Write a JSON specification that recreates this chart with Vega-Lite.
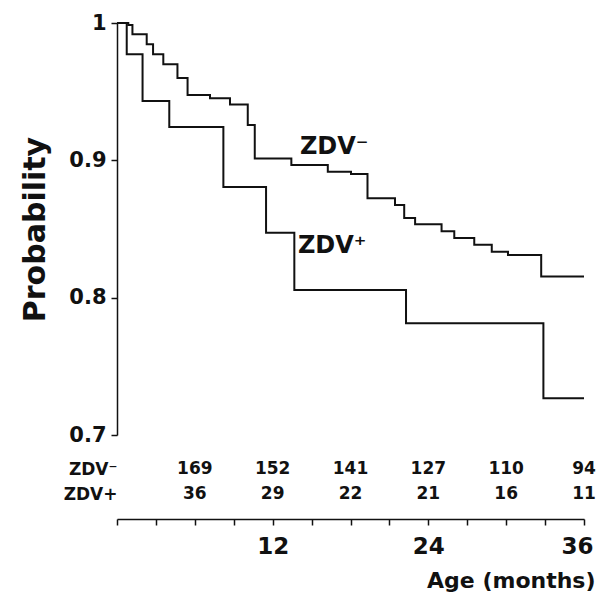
{
  "$schema": "https://vega.github.io/schema/vega-lite/v6.json",
  "background": "white",
  "padding": {"left": 20, "top": 12, "right": 5, "bottom": 5},
  "spacing": 9,
  "bounds": "flush",
  "config": {
    "view": {"stroke": null},
    "axis": {"grid": false, "domainColor": "#111", "tickColor": "#111", "labelColor": "#111", "titleColor": "#111", "labelFont": "DejaVu Sans", "titleFont": "DejaVu Sans", "labelFontWeight": "bold", "titleFontWeight": "bold"},
    "text": {"font": "DejaVu Sans", "fontWeight": "bold", "color": "#111"}
  },
  "datasets": {
    "curves": [
      {"group": "ZDV-", "month": 0, "prob": 1},
      {"group": "ZDV-", "month": 0.87, "prob": 0.9985},
      {"group": "ZDV-", "month": 1.19, "prob": 0.9918},
      {"group": "ZDV-", "month": 2.29, "prob": 0.9845},
      {"group": "ZDV-", "month": 2.78, "prob": 0.9772},
      {"group": "ZDV-", "month": 3.57, "prob": 0.9699},
      {"group": "ZDV-", "month": 4.66, "prob": 0.96},
      {"group": "ZDV-", "month": 5.44, "prob": 0.9476},
      {"group": "ZDV-", "month": 7.17, "prob": 0.9452},
      {"group": "ZDV-", "month": 8.71, "prob": 0.9406},
      {"group": "ZDV-", "month": 10.08, "prob": 0.9257},
      {"group": "ZDV-", "month": 10.62, "prob": 0.9013},
      {"group": "ZDV-", "month": 13.44, "prob": 0.8966},
      {"group": "ZDV-", "month": 16.25, "prob": 0.8917},
      {"group": "ZDV-", "month": 18.04, "prob": 0.89},
      {"group": "ZDV-", "month": 19.31, "prob": 0.8724},
      {"group": "ZDV-", "month": 21.43, "prob": 0.8675},
      {"group": "ZDV-", "month": 22.14, "prob": 0.858},
      {"group": "ZDV-", "month": 22.98, "prob": 0.8534},
      {"group": "ZDV-", "month": 25.02, "prob": 0.8483},
      {"group": "ZDV-", "month": 26.0, "prob": 0.8434},
      {"group": "ZDV-", "month": 27.54, "prob": 0.8385},
      {"group": "ZDV-", "month": 28.89, "prob": 0.8334},
      {"group": "ZDV-", "month": 30.14, "prob": 0.831},
      {"group": "ZDV-", "month": 32.7, "prob": 0.8154},
      {"group": "ZDV-", "month": 36, "prob": 0.8154},
      {"group": "ZDV+", "month": 0, "prob": 1},
      {"group": "ZDV+", "month": 0.75, "prob": 0.9772},
      {"group": "ZDV+", "month": 1.97, "prob": 0.9432},
      {"group": "ZDV+", "month": 4.03, "prob": 0.9243},
      {"group": "ZDV+", "month": 8.2, "prob": 0.8806},
      {"group": "ZDV+", "month": 11.49, "prob": 0.8473},
      {"group": "ZDV+", "month": 13.67, "prob": 0.8056},
      {"group": "ZDV+", "month": 22.28, "prob": 0.7813},
      {"group": "ZDV+", "month": 32.87, "prob": 0.7267},
      {"group": "ZDV+", "month": 36, "prob": 0.7267}
    ],
    "labels": [
      {"label": "ZDV⁻", "month": 14.1, "prob": 0.9046},
      {"label": "ZDV⁺", "month": 13.95, "prob": 0.8325}
    ],
    "risk": [
      {"row": "ZDV⁻", "month": 6, "n": 169},
      {"row": "ZDV⁻", "month": 12, "n": 152},
      {"row": "ZDV⁻", "month": 18, "n": 141},
      {"row": "ZDV⁻", "month": 24, "n": 127},
      {"row": "ZDV⁻", "month": 30, "n": 110},
      {"row": "ZDV⁻", "month": 36, "n": 94},
      {"row": "ZDV+", "month": 6, "n": 36},
      {"row": "ZDV+", "month": 12, "n": 29},
      {"row": "ZDV+", "month": 18, "n": 22},
      {"row": "ZDV+", "month": 24, "n": 21},
      {"row": "ZDV+", "month": 30, "n": 16},
      {"row": "ZDV+", "month": 36, "n": 11}
    ]
  },
  "vconcat": [
    {
      "width": 467,
      "height": 412,
      "layer": [
        {
          "data": {"name": "curves"},
          "mark": {"type": "line", "interpolate": "step-after", "strokeWidth": 2, "color": "#111"},
          "encoding": {
            "x": {"field": "month", "type": "quantitative", "scale": {"domain": [0, 36], "nice": false}, "axis": null},
            "y": {"field": "prob", "type": "quantitative", "scale": {"domain": [0.7, 1], "nice": false, "zero": false},
              "axis": {"title": "Probability", "values": [0.7, 0.8, 0.9, 1], "labelExpr": "datum.value == 1 ? '1' : format(datum.value, '.1f')", "tickSize": 6, "labelPadding": 5, "labelFontSize": 21, "titleFontSize": 30, "titlePadding": 18, "domainWidth": 1.5, "tickWidth": 1.5}},
            "detail": {"field": "group", "type": "nominal"}
          }
        },
        {
          "data": {"name": "labels"},
          "mark": {"type": "text", "align": "left", "baseline": "alphabetic", "fontSize": 24},
          "encoding": {
            "x": {"field": "month", "type": "quantitative"},
            "y": {"field": "prob", "type": "quantitative"},
            "text": {"field": "label", "type": "nominal"}
          }
        }
      ]
    },
    {
      "width": 467,
      "height": 75,
      "data": {"name": "risk"},
      "mark": {"type": "text", "align": "center", "baseline": "middle", "fontSize": 17},
      "encoding": {
        "x": {"field": "month", "type": "quantitative", "scale": {"domain": [0, 36], "nice": false},
          "axis": {"title": "Age  (months)", "values": [0, 3, 6, 9, 12, 15, 18, 21, 24, 27, 30, 33, 36], "labelExpr": "datum.value > 0 && datum.value % 12 == 0 ? datum.label : ''", "tickSize": 6, "labelPadding": 10, "labelFontSize": 23, "labelFlush": true, "labelFlushOffset": 9, "titleFontSize": 22, "titleAnchor": "end", "titleAlign": "right", "titleX": 478, "titlePadding": 12, "domainWidth": 1.5, "tickWidth": 1.5}},
        "y": {"field": "row", "type": "nominal", "sort": ["ZDV⁻", "ZDV+"], "scale": {"type": "point", "padding": 1},
          "axis": {"title": null, "domain": false, "ticks": false, "labelPadding": 0, "labelFontSize": 17}},
        "text": {"field": "n", "type": "quantitative"}
      }
    }
  ]
}
